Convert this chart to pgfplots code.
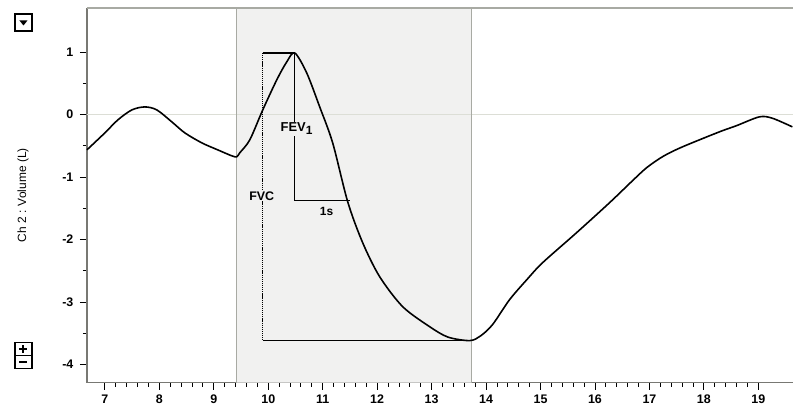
\documentclass[border=0pt]{standalone}
\usepackage{fontspec}
\setmainfont{Liberation Sans}
\usepackage{pgfplots}
\pgfplotsset{compat=1.18}
\definecolor{shade}{RGB}{241,241,240}
\definecolor{bord}{RGB}{168,170,163}
\definecolor{zero}{RGB}{220,222,214}
\definecolor{axc}{RGB}{120,120,115}
\begin{document}
\begin{tikzpicture}
\begin{axis}[name=ax, at={(0,0)}, anchor=south west,
 scale only axis, width=707bp, height=375bp,
 xmin=6.67, xmax=19.64, ymin=-4.288, ymax=1.703,
 axis x line*=bottom, axis y line*=left,
 axis line style={axc, line width=1.2pt, -},
 xtick={7,...,19}, minor x tick num=4,
 ytick={-4,...,1}, minor y tick num=1,
 tick align=outside,
 major tick length=7bp, minor tick length=4bp,
 tick style={black, line width=0.9pt},
 ticklabel style={font=\fontsize{12.5}{14}\selectfont\bfseries},
 yticklabel style={xshift=-3bp},
 xticklabel style={yshift=-2bp},
 /pgf/number format/assume math mode=true,
 ylabel={Ch 2 : Volume (L)},
 ylabel style={at={(axis description cs:-0.0905,0.5)}, anchor=center, font=\fontsize{12}{14}\selectfont},
 clip=false,
]
\addplot[fill=shade, draw=none] coordinates {(9.422,-4.288) (13.734,-4.288) (13.734,1.703) (9.422,1.703) (9.422,-4.288)};
\addplot[zero, line width=1.4pt] coordinates {(6.67,0) (19.64,0)};
\addplot[bord, line width=1.3pt] coordinates {(9.422,-4.288) (9.422,1.703)};
\addplot[bord, line width=1.3pt] coordinates {(13.734,-4.288) (13.734,1.703)};
\addplot[bord, line width=1.6pt] coordinates {(6.67,1.703) (19.64,1.703)};
% annotations
\addplot[black, dash pattern=on 1.2pt off 0.9pt, line width=1.3pt] coordinates {(9.899,0.984) (9.899,-3.616)};
\addplot[black, line width=1.3pt] coordinates {(9.899,0.984) (10.486,0.984) (10.486,-1.380) (11.495,-1.380)};
\addplot[black, line width=1.3pt] coordinates {(9.899,-3.616) (13.70,-3.616)};
% curve
\addplot[black, line width=1.6pt, smooth, tension=0.5] coordinates {
(6.670,-0.566) (7.000,-0.294) (7.239,-0.086) (7.495,0.073) (7.734,0.121)
(7.954,0.073) (8.229,-0.118) (8.468,-0.294) (8.780,-0.454) (9.073,-0.566)
(9.330,-0.661) (9.422,-0.677) (9.477,-0.613) (9.661,-0.406) (9.899,0.073)
(10.156,0.553) (10.339,0.840) (10.486,0.984) (10.706,0.665) (10.945,0.121)
(11.183,-0.454) (11.459,-1.396) (11.734,-2.051) (12.046,-2.594) (12.468,-3.073)
(12.963,-3.393) (13.300,-3.560) (13.700,-3.616) (13.900,-3.540) (14.119,-3.360)
(14.431,-2.962) (14.750,-2.640) (15.037,-2.371) (15.661,-1.891) (16.266,-1.412)
(16.688,-1.060) (16.950,-0.850) (17.250,-0.670) (17.600,-0.520) (18.284,-0.278)
(18.596,-0.180) (19.018,-0.038) (19.257,-0.060) (19.624,-0.198)};
\node[fill=shade, inner sep=1pt, font=\fontsize{13}{15}\selectfont\bfseries] at (axis cs:10.52,-0.23) {FEV\raisebox{-0.45ex}{\fontsize{12}{14}\selectfont 1}};
\node[fill=shade, inner sep=1pt, font=\fontsize{12.5}{14}\selectfont\bfseries] at (axis cs:9.88,-1.30) {FVC};
\node[inner sep=1pt, font=\fontsize{12}{14}\selectfont\bfseries] at (axis cs:11.07,-1.55) {1s};
\end{axis}
\path (ax.south west) ++(-87bp,-25bp) coordinate (bl);
\path (ax.north east) ++(0bp,8bp) coordinate (tr);
\path (bl) rectangle (tr);
% UI buttons
\begin{scope}[shift={(ax.south west)}]
\draw[line width=1.3pt, fill=white] (-72bp,352bp) rectangle (-55bp,369bp);
\fill (-67.5bp,362.5bp) -- (-59.5bp,362.5bp) -- (-63.5bp,357.5bp) -- cycle;
\draw[line width=1.3pt, fill=white] (-72bp,27bp) rectangle (-55bp,40bp);
\draw[line width=1.3pt, fill=white] (-72bp,14bp) rectangle (-55bp,27bp);
\draw[line width=2pt] (-67.5bp,33.5bp) -- (-59.5bp,33.5bp) (-63.5bp,29.5bp) -- (-63.5bp,37.5bp);
\draw[line width=2pt] (-67.5bp,20.5bp) -- (-59.5bp,20.5bp);
\end{scope}
\end{tikzpicture}
\end{document}
